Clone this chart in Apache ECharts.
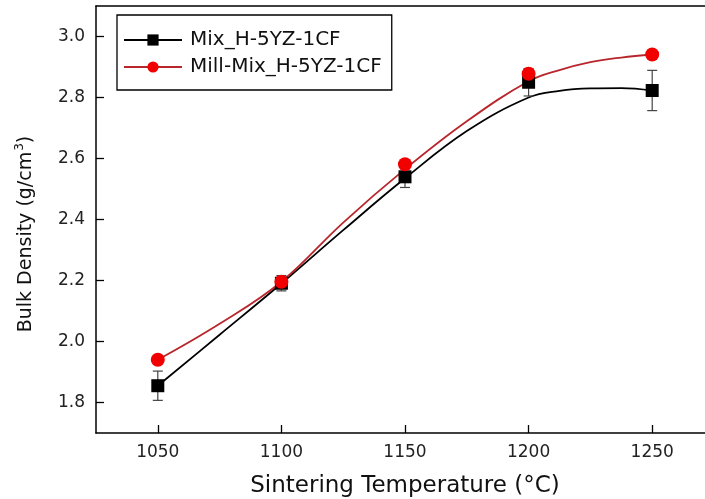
<!DOCTYPE html>
<html>
<head>
<meta charset="utf-8">
<script src="https://cdn.jsdelivr.net/npm/echarts@6/dist/echarts.min.js"></script>
<style>html,body{margin:0;padding:0;background:#fff;}#c{width:705px;height:499px;}</style>
</head>
<body>
<div id="c"></div>
<script>
const temps = [1050, 1100, 1150, 1200, 1250];
const mixValues = [1.855, 2.191, 2.540, 2.850, 2.823];
const mixErrors = [0.048, 0.025, 0.035, 0.045, 0.066];
const millValues = [1.940, 2.196, 2.581, 2.878, 2.941];
const curveTemps = [1050, 1075, 1100, 1125, 1150, 1175, 1200, 1212.5, 1225, 1237.5, 1250];
const mixCurve = [1.855, 2.022, 2.19, 2.365, 2.535, 2.69, 2.80, 2.822, 2.830, 2.831, 2.823];
const millCurve = [1.94, 2.058, 2.196, 2.39, 2.565, 2.722, 2.853, 2.89, 2.916, 2.931, 2.941];
const xTicks = [1050, 1100, 1150, 1200, 1250];
const yTicks = [1.8, 2.0, 2.2, 2.4, 2.6, 2.8, 3.0];
const names = ['Mix_H-5YZ-1CF', 'Mill-Mix_H-5YZ-1CF'];

const chart = echarts.init(document.getElementById('c'));
const zip = (a, b) => a.map((v, i) => [v, b[i]]);
const errData = temps.map((t, i) => [t, mixValues[i] - mixErrors[i], mixValues[i] + mixErrors[i]]);
const font = 'DejaVu Sans, Verdana, sans-serif';

chart.setOption({
  animation: false,
  grid: {left: 96, top: 6, width: 618, height: 427, outerBoundsMode: 'none', containLabel: false},
  legend: {
    left: 117, top: 15, orient: 'vertical',
    data: names,
    itemWidth: 58, itemHeight: 14, itemGap: 7,
    padding: [15, 10, 13, 6],
    borderColor: '#000', borderWidth: 1.3,
    textStyle: {fontFamily: font, fontSize: 20, color: '#111', padding: [0, 0, 0, 3]}
  },
  xAxis: [{
    type: 'value', min: 1025, max: 1275, interval: 25,
    axisLine: {lineStyle: {color: '#000', width: 1.5}},
    axisTick: {inside: true, length: 8, lineStyle: {color: '#000', width: 1.3}, customValues: xTicks},
    axisLabel: {fontFamily: font, fontSize: 17, color: '#222', margin: 11, customValues: xTicks,
      formatter: v => String(v)},
    splitLine: {show: false},
    name: 'Sintering Temperature (°C)', nameLocation: 'middle', nameGap: 42,
    nameTextStyle: {fontFamily: font, fontSize: 23, color: '#111'}
  }, {
    type: 'value', position: 'top', min: 1025, max: 1275,
    axisLine: {show: true, lineStyle: {color: '#000', width: 1.5}},
    axisTick: {show: false}, axisLabel: {show: false}, splitLine: {show: false}
  }],
  yAxis: {
    type: 'value', min: 1.7, max: 3.1, interval: 0.1,
    axisLine: {show: true, lineStyle: {color: '#000', width: 1.5}},
    axisTick: {show: true, inside: true, length: 8, lineStyle: {color: '#000', width: 1.3}, customValues: yTicks},
    axisLabel: {fontFamily: font, fontSize: 17, color: '#222', margin: 11, customValues: yTicks,
      formatter: v => v.toFixed(1)},
    splitLine: {show: false},
    name: 'Bulk Density (g/cm{sup|3})', nameLocation: 'middle', nameGap: 58,
    nameTextStyle: {fontFamily: font, fontSize: 19, color: '#111', padding: [0, 29, 0, 0],
      rich: {sup: {fontFamily: font, fontSize: 12, color: '#111', verticalAlign: 'top', padding: [0, 0, 12, 1]}}}
  },
  series: [
    {
      name: names[0], type: 'line', data: zip(curveTemps, mixCurve), smooth: 0.4,
      showSymbol: false, symbol: 'rect', symbolSize: 13,
      lineStyle: {color: '#000', width: 1.8}, itemStyle: {color: '#000'}, z: 2
    },
    {
      name: names[1], type: 'line', data: zip(curveTemps, millCurve), smooth: 0.4,
      showSymbol: false, symbol: 'circle', symbolSize: 14,
      lineStyle: {color: '#b8262c', width: 1.8}, itemStyle: {color: '#f20000'}, z: 2
    },
    {
      type: 'custom', name: 'err', data: errData, z: 3,
      renderItem: (params, api) => {
        const x = api.value(0);
        const lo = api.coord([x, api.value(1)]);
        const hi = api.coord([x, api.value(2)]);
        const w = 5;
        const st = {stroke: '#444', lineWidth: 1.2};
        return {type: 'group', children: [
          {type: 'line', shape: {x1: lo[0], y1: lo[1], x2: hi[0], y2: hi[1]}, style: st},
          {type: 'line', shape: {x1: lo[0] - w, y1: lo[1], x2: lo[0] + w, y2: lo[1]}, style: st},
          {type: 'line', shape: {x1: hi[0] - w, y1: hi[1], x2: hi[0] + w, y2: hi[1]}, style: st}
        ]};
      }
    },
    {
      name: names[0], type: 'scatter', data: zip(temps, mixValues),
      symbol: 'rect', symbolSize: 13, itemStyle: {color: '#000', opacity: 1}, z: 4
    },
    {
      name: names[1], type: 'scatter', data: zip(temps, millValues),
      symbol: 'circle', symbolSize: 14, itemStyle: {color: '#f20000', opacity: 1}, z: 5
    }
  ]
});
</script>
</body>
</html>
